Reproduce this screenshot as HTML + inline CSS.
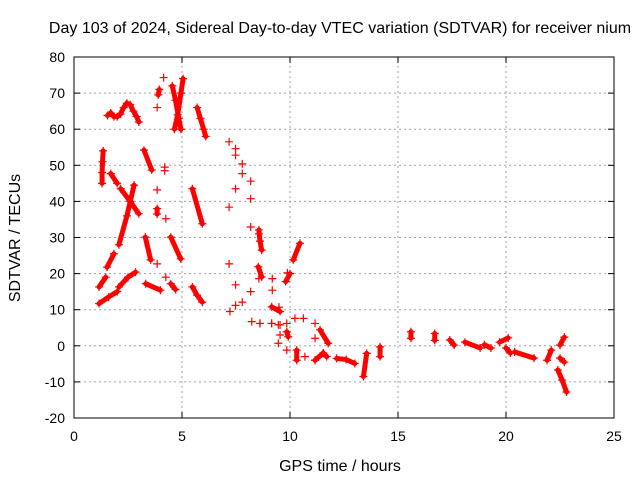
<!DOCTYPE html>
<html><head><meta charset="utf-8"><style>
body{margin:0;background:#fff}
svg{display:block;font-family:"Liberation Sans",sans-serif}
</style></head><body>
<svg id="chart" width="640" height="480" viewBox="0 0 640 480">
<rect width="640" height="480" fill="#fff"/>
<text x="340" y="33" font-size="16" text-anchor="middle">Day 103 of 2024, Sidereal Day-to-day VTEC variation (SDTVAR) for receiver nium</text>
<text x="340" y="471" font-size="16" text-anchor="middle">GPS time / hours</text>
<text transform="translate(20,238) rotate(-90)" font-size="16" text-anchor="middle">SDTVAR / TECUs</text>
<g id="grid"></g><g id="ticks"></g><g id="marks"></g>
<rect x="74" y="57" width="540" height="361" fill="none" stroke="#000" stroke-width="1"/>
</svg>
<script>
const xTicks=[0,5,10,15,20,25];
const yTicks=[-20,-10,0,10,20,30,40,50,60,70,80];
const passX=[
[1.55,1.7,1.85,2.0,2.15,2.3,2.45,2.6,2.75,2.9,3.0],
[4.55,4.7,4.85,4.95],[4.65,4.8,4.95,5.05],[5.7,5.85,6.0,6.1],
[1.3,1.3,1.32,1.35],[1.7,2.0],[2.16,2.6,3.0],[2.78,2.45,2.08],[1.85,1.53],[1.16,1.47],
[1.16,1.6,2.0],[2.08,2.5,2.85],[3.24,3.6],[3.85,3.85],[3.3,3.55],[3.32,4.0],[4.48,4.94],[4.48,4.7],
[5.48,5.94],[5.48,5.7,5.94],[3.9,3.95],
[8.56,8.61,8.69],[8.53,8.69],[9.8,10.0],[10.15,10.46],[9.15,9.54],[9.85,9.92],
[10.31,10.31],[11.39,11.77],[11.16,11.54,11.7],[12.16,12.6,13.0],[13.55,13.4],[14.17,14.17],
[15.6,15.6],[16.7,16.7],[17.4,17.6],[18.1,18.8],[19.0,19.3],[19.7,20.1],[20.0,20.2],[20.4,21.3],
[22.1,21.9],[22.5,22.7],[22.5,22.7],[22.4,22.6,22.8]
];
const passY=[
[63.8,64.5,63.5,63.5,64.2,66,67.2,66.8,65,63.5,62],
[72,68,63,60],[60,64,70,74],[66,63,60,58],
[45,48,51,54],[47.7,45],[43.5,40,36.6],[44.5,36,28],[25.5,21.8],[16.3,19],
[11.7,13.5,15],[16.3,19,20.4],[54.2,48.7],[38,36.5],[30.1,23.8],[17.2,15.4],[30.1,24.1],[17.2,15.6],
[43.5,33.8],[16.3,14,12.1],[69.5,71],
[32.1,29,26.5],[21.9,19.1],[17.8,20],[23.8,28.4],[10.8,9.5],[3.9,2.5],
[-1.2,-4],[4.4,0.7],[-4,-2,-3],[-3.5,-3.8,-4.9],[-2.1,-8.5],[-0.3,-3],
[3.9,2.1],[3.4,1.5],[1.6,0.2],[1,-0.6],[0.3,-0.6],[1,2.2],[-0.6,-2],[-1.7,-3.4],
[-1.2,-4],[0.2,2.4],[-3.4,-4.5],[-6.7,-9.5,-12.8]
];
const singleX=[4.15,3.85,4.2,4.2,3.85,4.25,3.85,4.25,7.18,7.48,7.48,7.79,7.79,8.18,7.48,8.18,7.18,8.18,8.56,7.18,8.56,7.48,8.18,9.18,9.18,7.79,7.48,7.22,9.49,9.88,8.61,9.15,9.46,8.23,8.61,9.15,9.54,9.85,9.54,9.46,9.85,10.23,10.62,10.69,11.16,11.16,11.16];
const singleY=[74.3,66,49.5,48.5,43.2,35.2,22.7,19,56.5,54.6,52.8,50.4,47.7,45.6,43.5,40.75,38.4,32.9,31,22.7,18.6,16.9,15,18.6,15.4,12.1,11.2,9.5,10.7,20.2,6.2,6.2,5.8,6.7,6.2,6.2,5.8,6.2,3,0.7,-1.2,7.6,7.6,-3,6.2,2.1,-4];

const X0=74,X1=614,Y0=418,Y1=57;
const sx=v=>X0+(v-0)/(25-0)*(X1-X0);
const sy=v=>Y0-(v+20)/100*(Y0-Y1);
const NS="http://www.w3.org/2000/svg";
function mk(tag,attrs,parent){const e=document.createElementNS(NS,tag);for(const k in attrs)e.setAttribute(k,attrs[k]);parent.appendChild(e);return e;}
const grid=document.getElementById('grid'),ticks=document.getElementById('ticks'),marks=document.getElementById('marks');
xTicks.forEach(t=>{const x=sx(t);
 if(t>0&&t<25){const g=mk('line',{x1:x,y1:Y0,x2:x,y2:Y1,stroke:'#a0a0a0','stroke-dasharray':'2,3'},grid);
 
 }
 mk('line',{x1:x,y1:Y0,x2:x,y2:Y0-6,stroke:'#000'},ticks);
 mk('line',{x1:x,y1:Y1,x2:x,y2:Y1+6,stroke:'#000'},ticks);
 const l=mk('text',{x:x,y:Y0+23,'font-size':14,'text-anchor':'middle'},ticks);l.textContent=t;
 
 
});
yTicks.forEach(t=>{const y=sy(t);
 if(t>-20&&t<80){const g=mk('line',{x1:X0,y1:y,x2:X1,y2:y,stroke:'#a0a0a0','stroke-dasharray':'2,3'},grid);
 
 }
 mk('line',{x1:X0,y1:y,x2:X0+6,y2:y,stroke:'#000'},ticks);
 mk('line',{x1:X1,y1:y,x2:X1-6,y2:y,stroke:'#000'},ticks);
 const l=mk('text',{x:X0-9,y:y+5,'font-size':14,'text-anchor':'end'},ticks);l.textContent=t;
 
 
});
function cross(x,y,name){const p=mk('path',{d:`M${x-4},${y}H${x+4}M${x},${y-4}V${y+4}`,stroke:'#f00','stroke-width':1.2},marks);
 
 }
passX.forEach((xs,i)=>{const ys=passY[i];
 const pts=xs.map((v,j)=>sx(v)+','+sy(ys[j])).join(' ');
 const pl=mk('polyline',{points:pts,fill:'none',stroke:'#f00','stroke-width':5,'stroke-linecap':'round'},marks);
 
 
 xs.forEach((v,j)=>cross(sx(v),sy(ys[j]),'data-point'));
});
singleX.forEach((v,i)=>cross(sx(v),sy(singleY[i]),'data-point'));
</script>
</body></html>
